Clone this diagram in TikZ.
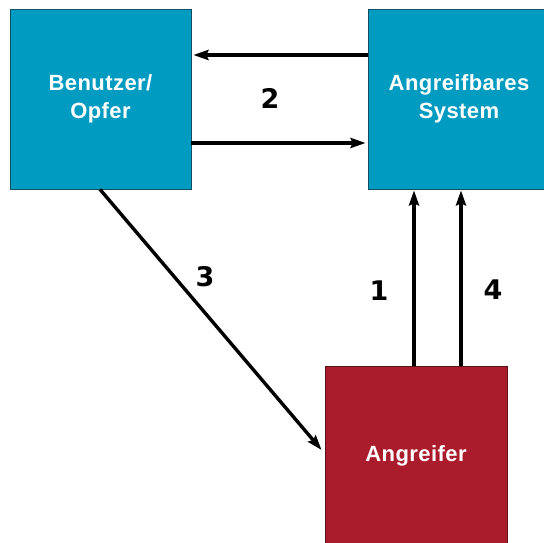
\documentclass[tikz,border=0pt]{standalone}
\usepackage{fontspec}
\setmainfont{Liberation Sans}
\newfontfamily\numfont{DejaVu Sans}
\usetikzlibrary{arrows.meta,calc}
\definecolor{boxblue}{RGB}{0,155,192}
\definecolor{boxblueedge}{RGB}{20,80,100}
\definecolor{boxred}{RGB}{170,27,43}
\definecolor{boxrededge}{RGB}{90,20,25}
\tikzset{
  box/.style={minimum width=182pt, minimum height=180pt, inner sep=0pt, line width=0.8pt,
    text=white, align=center, font=\bfseries\fontsize{22}{28}\selectfont\addfontfeature{LetterSpace=2}},
  bluebox/.style={box, fill=boxblue, draw=boxblueedge},
  redbox/.style={box, fill=boxred, draw=boxrededge},
  arr/.style={line width=3.4pt, -{Stealth[length=15pt,width=10pt,inset=2pt]}},
  num/.style={font=\numfont\bfseries\fontsize{27}{27}\selectfont, inner sep=0pt}
}
\begin{document}
\begin{tikzpicture}[x=1pt,y=1pt]
\useasboundingbox (0,0) rectangle (544,543);
\begin{scope}
\clip (0,0) rectangle (544,543);
\node[bluebox, minimum width=181pt] (A) at (100.5,444) {Benutzer/\\Opfer};
\node[bluebox] (B) at (459,444) {Angreifbares\\System};
\node[redbox] (C) at (416,87) {Angreifer};
\end{scope}
\draw[arr] ([yshift=44pt]B.west) -- ([yshift=44pt,xshift=2pt]A.east);
\draw[arr] ([yshift=-44pt]A.east) -- ([yshift=-44pt,xshift=-2pt]B.west);
\coordinate (c1) at ([xshift=-2pt]C.north);
\coordinate (c4) at ([xshift=45pt]C.north);
\draw[arr] (c1) -- ([yshift=-1pt]c1 |- B.south);
\draw[arr] (c4) -- ([yshift=-1pt]c4 |- B.south);
\coordinate (d0) at ([xshift=-0.5pt]A.south);
\draw[arr] (d0) -- ([yshift=6pt,xshift=-3pt]C.west);
\node[num] (n2) at (270,445) {2};
\node[num] (n3) at (205,266) {3};
\node[num] (n1) at (379,252) {1};
\node[num] (n4) at (493,253) {4};
\end{tikzpicture}
\end{document}
